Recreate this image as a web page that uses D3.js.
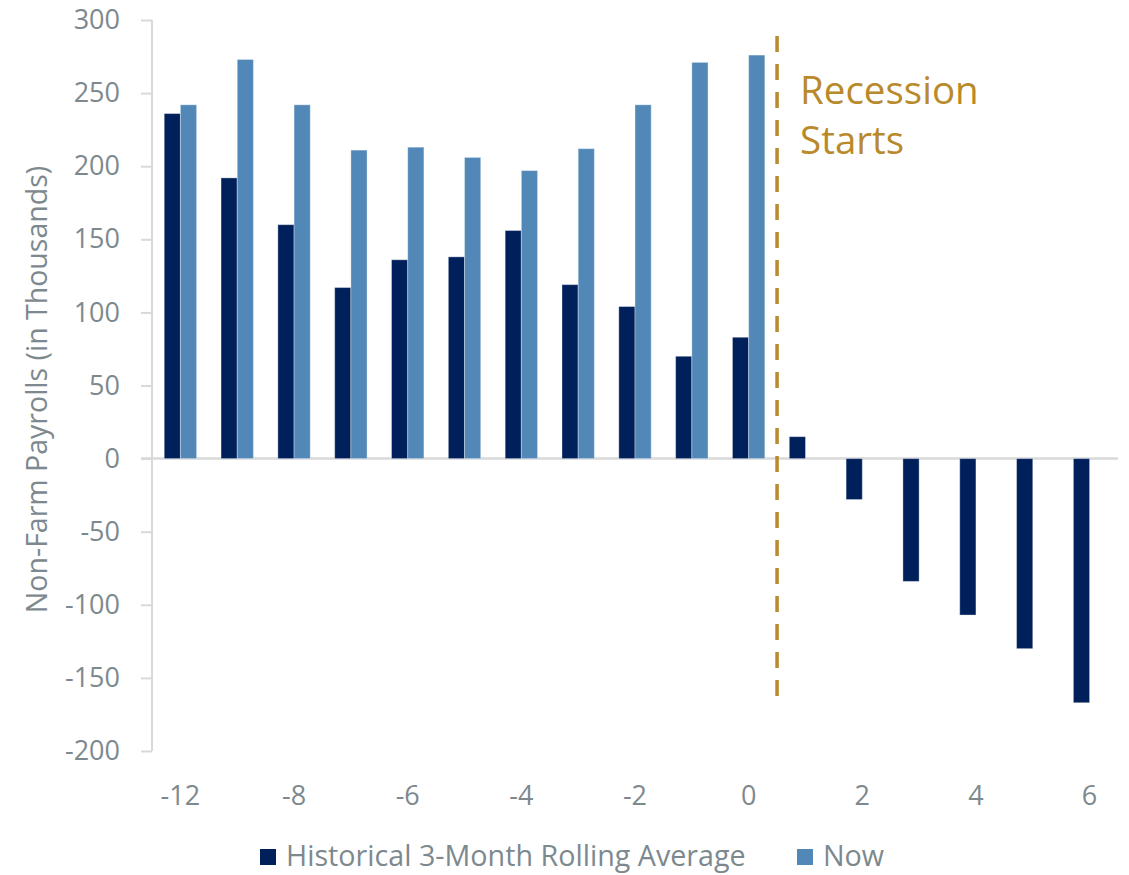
<!DOCTYPE html>
<html>
<head>
<meta charset="utf-8">
<script src="https://cdn.jsdelivr.net/npm/d3@7"></script>
<style>
  html, body { margin: 0; padding: 0; background: #ffffff; }
  svg { display: block; }
  text { font-family: "Open Sans", Lato, sans-serif; }
</style>
</head>
<body>
<svg id="chart" width="1129" height="875"></svg>
<script>
// Months relative to the start of a recession
const months = ["-12", "-10", "-8", "-7", "-6", "-5", "-4", "-3", "-2", "-1", "0", "1", "2", "3", "4", "5", "6"];

// Non-farm payroll change, thousands
const historical = [236, 192, 160, 117, 136, 138, 156, 119, 104, 70, 83, 15, -28, -84, -107, -130, -167];
const now = [242, 273, 242, 211, 213, 206, 197, 212, 242, 271, 276, null, null, null, null, null, null];

const seriesNames = ["Historical 3-Month Rolling Average", "Now"];
const seriesColors = ["#00205b", "#5288b8"];

const yTicks = [300, 250, 200, 150, 100, 50, 0, -50, -100, -150, -200];
const xTickLabels = ["-12", "-8", "-6", "-4", "-2", "0", "2", "4", "6"];

const textColor = "#7d898e";
const axisColor = "#d9d9d9";
const recessionColor = "#b98a2b";

const svg = d3.select("#chart");

const y = d3.scaleLinear().domain([-200, 300]).range([751, 20]);
const x = d3.scaleBand().domain(months).range([152, 1118]).paddingInner(0.43).paddingOuter(0.215);
const x1 = d3.scaleBand().domain(seriesNames).range([0, x.bandwidth()]);

// Y axis: line, tick marks and labels (plain hyphen for negatives)
const yAxis = d3.axisLeft(y).tickValues(yTicks).tickSize(11).tickPadding(21).tickFormat(d => String(d));
const yG = svg.append("g").attr("transform", "translate(152,0)").call(yAxis);
yG.select(".domain").attr("stroke", axisColor).attr("stroke-width", 2).attr("d", `M0,${y(300)}V${y(-200)}`);
yG.selectAll(".tick line").attr("stroke", axisColor).attr("stroke-width", 2);
yG.selectAll(".tick text").attr("fill", textColor).style("font-size", "27px").style("font-family", "'Open Sans', sans-serif");

// Zero baseline
svg.append("line")
  .attr("x1", 141).attr("x2", 1118)
  .attr("y1", y(0)).attr("y2", y(0))
  .attr("stroke", axisColor).attr("stroke-width", 2.5);

// Bars
const rows = months.map((m, i) => ({ month: m, values: [historical[i], now[i]] }));
const groups = svg.append("g").selectAll("g").data(rows).join("g")
  .attr("transform", d => `translate(${x(d.month)},0)`);
groups.selectAll("rect")
  .data(d => d.values.map((v, j) => ({ v, s: seriesNames[j], c: seriesColors[j] })).filter(e => e.v !== null))
  .join("rect")
  .attr("x", e => x1(e.s))
  .attr("width", x1.bandwidth())
  .attr("y", e => y(Math.max(0, e.v)))
  .attr("height", e => Math.abs(y(e.v) - y(0)))
  .attr("fill", e => e.c)
  .attr("stroke", "#ffffff").attr("stroke-opacity", 0.35).attr("stroke-width", 1);

// X axis labels (every other month)
svg.append("g").selectAll("text").data(xTickLabels).join("text")
  .attr("x", d => x(d) + x.bandwidth() / 2)
  .attr("y", 805)
  .attr("text-anchor", "middle")
  .attr("fill", textColor)
  .style("font-size", "27px")
  .text(d => d);

// Y axis title
svg.append("text")
  .attr("transform", `translate(47,${(y(300) + y(-200)) / 2 + 4}) rotate(-90)`)
  .attr("text-anchor", "middle")
  .attr("fill", textColor)
  .style("font-size", "28.5px")
  .text("Non-Farm Payrolls (in Thousands)");

// Recession start marker between month 0 and month 1
const markX = (x("0") + x.bandwidth() + x("1")) / 2;
svg.append("line")
  .attr("x1", markX).attr("x2", markX)
  .attr("y1", y(289)).attr("y2", y(-163))
  .attr("stroke", recessionColor).attr("stroke-width", 3.5)
  .attr("stroke-dasharray", "16 12");

const rec = svg.append("text")
  .attr("x", markX + 23).attr("y", 104)
  .attr("fill", recessionColor)
  .style("font-size", "38.5px");
rec.append("tspan").attr("x", markX + 23).text("Recession");
rec.append("tspan").attr("x", markX + 23).attr("dy", 50).text("Starts");

// Legend
const legendItems = [
  { name: seriesNames[0], color: seriesColors[0], x: 260 },
  { name: seriesNames[1], color: seriesColors[1], x: 797 }
];
const lg = svg.append("g").selectAll("g").data(legendItems).join("g")
  .attr("transform", d => `translate(${d.x},849)`);
lg.append("rect").attr("width", 16).attr("height", 16).attr("fill", d => d.color);
lg.append("text").attr("x", 26).attr("y", 17).attr("fill", textColor)
  .style("font-size", "28.7px").text(d => d.name);
</script>
</body>
</html>
